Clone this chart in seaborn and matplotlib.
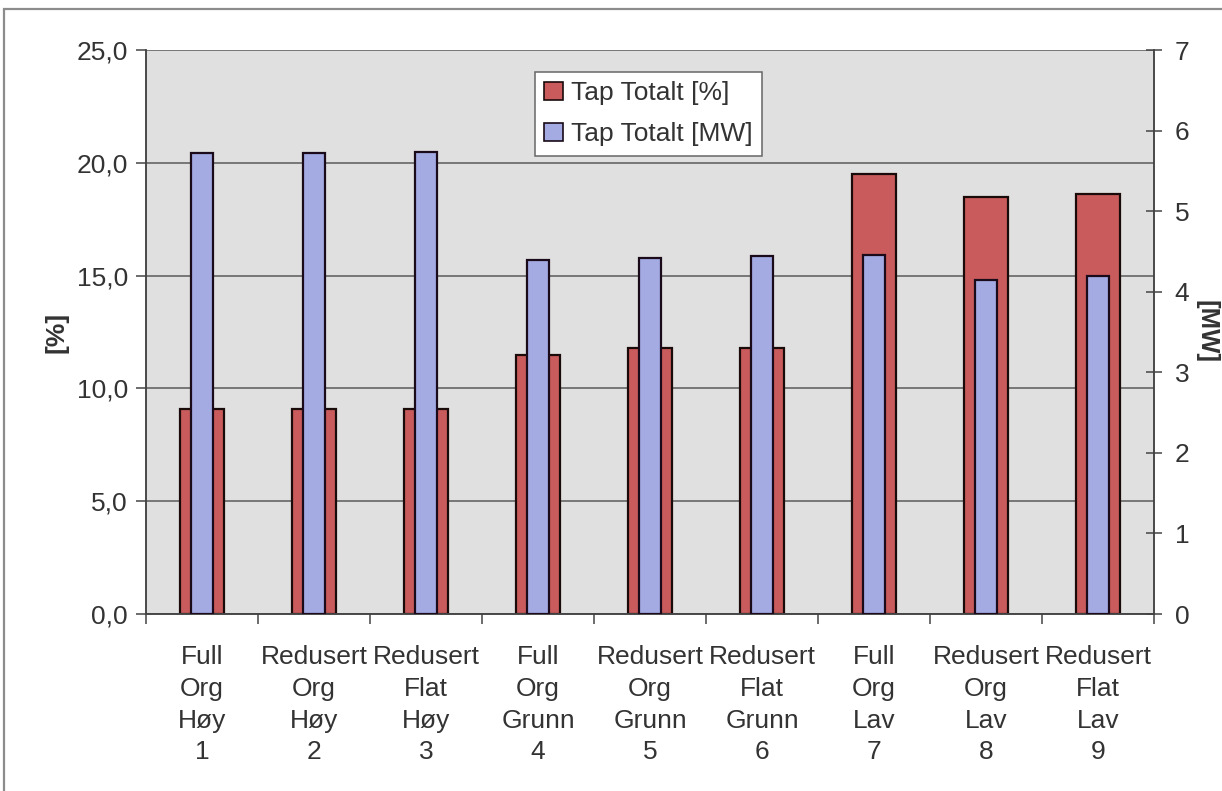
import matplotlib
matplotlib.use("Agg")
import matplotlib.pyplot as plt
import matplotlib.patches as mpatches
from matplotlib.ticker import FixedLocator, FuncFormatter
import seaborn as sns
import pandas as pd

# Loss scenarios: scheme / profile / level / case number
scheme = ["Full", "Redusert", "Redusert", "Full", "Redusert", "Redusert", "Full", "Redusert", "Redusert"]
profile = ["Org", "Org", "Flat", "Org", "Org", "Flat", "Org", "Org", "Flat"]
level = ["Høy", "Høy", "Høy", "Grunn", "Grunn", "Grunn", "Lav", "Lav", "Lav"]
case_no = ["1", "2", "3", "4", "5", "6", "7", "8", "9"]

loss_pct = [9.1, 9.1, 9.1, 11.5, 11.8, 11.8, 19.5, 18.5, 18.6]
loss_mw = [5.72, 5.72, 5.74, 4.39, 4.42, 4.44, 4.46, 4.15, 4.20]

labels = [f"{a}\n{b}\n{c}\n{d}" for a, b, c, d in zip(scheme, profile, level, case_no)]
df = pd.DataFrame({"case": labels, "pct": loss_pct, "mw": loss_mw})

RED = "#c95b5c"
BLUE = "#a3abe2"
TXT = "#333333"
FS = 19

sns.set_theme(style="white")
plt.rcParams["font.family"] = ["Liberation Sans", "DejaVu Sans"]

fig = plt.figure(figsize=(12.22, 7.91), dpi=100)
ax = fig.add_axes([146 / 1222, 1 - 614 / 791, (1154 - 146) / 1222, (614 - 50) / 791])
ax.set_facecolor("#e1e0e0")
ax2 = ax.twinx()

sns.barplot(data=df, x="case", y="pct", color=RED, saturation=1, width=0.39,
            edgecolor="#1a0a0a", linewidth=1.6, ax=ax, zorder=2)
sns.barplot(data=df, x="case", y="mw", color=BLUE, saturation=1, width=0.19,
            edgecolor="#1a0a1a", linewidth=1.6, ax=ax2, zorder=3)

ax.set_xlim(-0.5, len(labels) - 0.5)
ax.set_ylim(0, 25)
ax2.set_ylim(0, 7)

# left axis: percent with decimal comma
ax.yaxis.set_major_locator(FixedLocator([0, 5, 10, 15, 20, 25]))
ax.yaxis.set_major_formatter(FuncFormatter(lambda v, p: f"{v:.1f}".replace(".", ",")))
ax.grid(axis="y", color="#5a5a5a", linewidth=1.1, zorder=0)
ax.set_axisbelow(True)
ax.tick_params(axis="y", which="major", left=True, direction="out", length=7,
               width=1.1, color="#444444", pad=6, labelsize=FS, labelcolor=TXT)

# right axis: MW
ax2.yaxis.set_major_locator(FixedLocator(range(0, 8)))
ax2.tick_params(axis="y", right=True, direction="inout", length=12, width=1.1,
                color="#444444", pad=9, labelsize=FS, labelcolor=TXT)

# category labels centred, separator ticks between categories
ax.set_xticks(range(len(labels)))
ax.set_xticklabels(labels, linespacing=1.42)
ax.set_xticks([i - 0.5 for i in range(len(labels) + 1)], minor=True)
ax.tick_params(axis="x", which="major", length=0, pad=22, labelsize=FS, labelcolor=TXT)
ax.tick_params(axis="x", which="minor", bottom=True, direction="out", length=7,
               width=1.1, color="#444444")
ax.set_xlabel("")
ax2.set_xlabel("")
ax.set_ylabel("")
ax2.set_ylabel("")

# axis titles
fig.text(56 / 1222, 1 - 332 / 791, "[%]", fontsize=FS, fontweight="bold", color=TXT,
         rotation=90, ha="center", va="center")
fig.text(1206 / 1222, 1 - 332 / 791, "[MW]", fontsize=FS - 0.5, fontweight="bold", color=TXT,
         rotation=-90, ha="center", va="center")

for a in (ax, ax2):
    for side in ("left", "right", "bottom"):
        a.spines[side].set_color("#444444")
        a.spines[side].set_linewidth(1.1)
    a.spines["top"].set_visible(False)
ax2.patch.set_visible(False)

handles = [
    mpatches.Patch(facecolor=RED, edgecolor="#1a0a0a", linewidth=1.2, label="Tap Totalt [%]"),
    mpatches.Patch(facecolor=BLUE, edgecolor="#1a0a1a", linewidth=1.2, label="Tap Totalt [MW]"),
]
leg = ax2.legend(handles=handles, loc="upper left", bbox_to_anchor=(0.386, 0.961),
                 borderaxespad=0, fontsize=FS, frameon=True, fancybox=False,
                 handlelength=0.7, handleheight=0.7, handletextpad=0.3,
                 labelspacing=0.65, borderpad=0.35)
leg.get_frame().set_edgecolor("#666666")
leg.get_frame().set_linewidth(1.1)
leg.get_frame().set_facecolor("white")
leg.get_frame().set_alpha(1)
for t in leg.get_texts():
    t.set_color(TXT)

# outer chart border
fig.patches.append(mpatches.Rectangle((4 / 1222, -0.05), 1.2, (1 - 9 / 791) + 0.05,
                                      transform=fig.transFigure, fill=False,
                                      edgecolor="#8c8c8c", linewidth=1.6))

fig.savefig("out.png", dpi=100, facecolor="white")
